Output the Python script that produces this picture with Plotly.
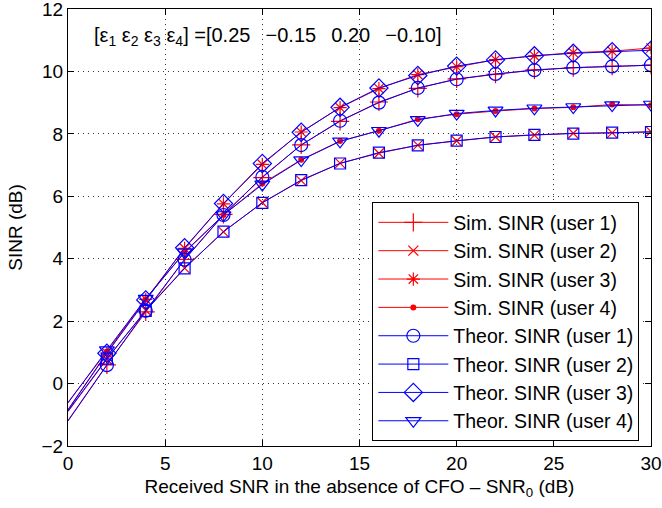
import plotly.graph_objects as go

snr0 = [0, 2, 4, 6, 8, 10, 12, 14, 16, 18, 20, 22, 24, 26, 28, 30]

sim_u1 = [-1.18, 0.60, 2.30, 3.98, 5.42, 6.60, 7.65, 8.40, 9.02, 9.46, 9.76, 9.91, 10.05, 10.12, 10.17, 10.20]
sim_u2 = [-0.90, 0.78, 2.35, 3.70, 4.86, 5.80, 6.50, 7.06, 7.38, 7.64, 7.77, 7.90, 7.96, 8.02, 8.03, 8.07]
sim_u3 = [-0.83, 0.98, 2.70, 4.33, 5.76, 7.02, 8.06, 8.84, 9.45, 9.90, 10.15, 10.38, 10.50, 10.60, 10.65, 10.75]
sim_u4 = [-0.60, 1.03, 2.70, 4.22, 5.40, 6.41, 7.17, 7.77, 8.10, 8.47, 8.63, 8.73, 8.81, 8.85, 8.94, 8.92]

th_u1 = [-1.20, 0.59, 2.33, 3.97, 5.40, 6.62, 7.64, 8.42, 9.00, 9.47, 9.75, 9.92, 10.04, 10.12, 10.16, 10.20]
th_u2 = [-0.88, 0.80, 2.33, 3.69, 4.87, 5.79, 6.52, 7.05, 7.40, 7.63, 7.78, 7.90, 7.97, 8.01, 8.04, 8.06]
th_u3 = [-0.85, 0.97, 2.68, 4.35, 5.77, 7.05, 8.05, 8.85, 9.47, 9.87, 10.17, 10.37, 10.50, 10.58, 10.63, 10.68]
th_u4 = [-0.62, 1.07, 2.72, 4.20, 5.40, 6.38, 7.16, 7.76, 8.10, 8.45, 8.65, 8.75, 8.82, 8.86, 8.92, 8.94]

x_ticks = [0, 5, 10, 15, 20, 25, 30]
y_ticks = [-2, 0, 2, 4, 6, 8, 10, 12]

names = ["Sim. SINR (user 1)", "Sim. SINR (user 2)", "Sim. SINR (user 3)", "Sim. SINR (user 4)",
         "Theor. SINR (user 1)", "Theor. SINR (user 2)", "Theor. SINR (user 3)", "Theor. SINR (user 4)"]
series = [sim_u1, sim_u2, sim_u3, sim_u4, th_u1, th_u2, th_u3, th_u4]

RED = "#FF0000"
BLUE = "#0000FF"
styles = [
    dict(color=RED, symbol="cross-thin-open", size=13, lw=1.2),
    dict(color=RED, symbol="x-thin-open", size=10, lw=1.2),
    dict(color=RED, symbol="asterisk-open", size=11, lw=1.2),
    dict(color=RED, symbol="circle", size=6, lw=0),
    dict(color=BLUE, symbol="circle-open", size=13, lw=1.2),
    dict(color=BLUE, symbol="square-open", size=11, lw=1.2),
    dict(color=BLUE, symbol="diamond-open", size=14, lw=1.2),
    dict(color=BLUE, symbol="triangle-down-open", size=13, lw=1.2),
]

FONT = "Liberation Sans, Arial, Helvetica, sans-serif"
fig = go.Figure()

for name, ys, st in zip(names, series, styles):
    # first segment (no marker at SNR0 = 0)
    fig.add_trace(go.Scatter(x=snr0[:2], y=ys[:2], mode="lines",
                             line=dict(color=st["color"], width=1),
                             showlegend=False, hoverinfo="skip"))
    fig.add_trace(go.Scatter(x=snr0[1:], y=ys[1:], mode="lines+markers", name=name,
                             line=dict(color=st["color"], width=1),
                             marker=dict(symbol=st["symbol"], size=st["size"], color=st["color"],
                                         line=dict(color=st["color"], width=st["lw"]))))

axis_common = dict(showline=True, linecolor="black", linewidth=1, mirror="allticks",
                   ticks="inside", ticklen=6, tickcolor="black", tickwidth=1,
                   showgrid=True, gridcolor="#333333", gridwidth=1, griddash="1px,4px",
                   zeroline=False, automargin=False, ticklabeloverflow="allow",
                   tickfont=dict(family=FONT, size=19, color="black"))

fig.update_xaxes(range=[0, 30], tickvals=x_ticks, ticktext=[str(v) for v in x_ticks],
                 title=dict(text="Received SNR in the absence of CFO \u2013 SNR<sub>0</sub> (dB)",
                            font=dict(family=FONT, size=19, color="black"), standoff=6),
                 **axis_common)
fig.update_yaxes(range=[-2, 12], tickvals=y_ticks,
                 ticktext=[("\u2212" + str(-v)) if v < 0 else str(v) for v in y_ticks],
                 title=dict(text="SINR (dB)", font=dict(family=FONT, size=19, color="black"), standoff=13),
                 **axis_common)

gap = "\u00a0\u00a0\u2009"
fig.add_annotation(xref="paper", yref="paper", x=0.041, y=0.937, xanchor="left", yanchor="middle",
                   showarrow=False, font=dict(family=FONT, size=20, color="black"),
                   text="[\u03b5<sub>1</sub> \u03b5<sub>2</sub> \u03b5<sub>3</sub> \u03b5<sub>4</sub>] =[0.25"
                        + gap + "\u22120.15" + gap + "0.20" + gap + "\u22120.10]")

fig.update_layout(
    width=662, height=508,
    margin=dict(l=68, r=11, t=9, b=62),
    paper_bgcolor="white", plot_bgcolor="white",
    showlegend=True,
    legend=dict(x=0.98, y=0.558, xanchor="right", yanchor="top",
                bgcolor="white", bordercolor="black", borderwidth=1,
                font=dict(family=FONT, size=19.5, color="black"),
                itemwidth=70, tracegroupgap=0),
    font=dict(family=FONT),
)

fig.write_html("out.html", config={"displayModeBar": False},
               post_script="document.body.style.margin='0';")
